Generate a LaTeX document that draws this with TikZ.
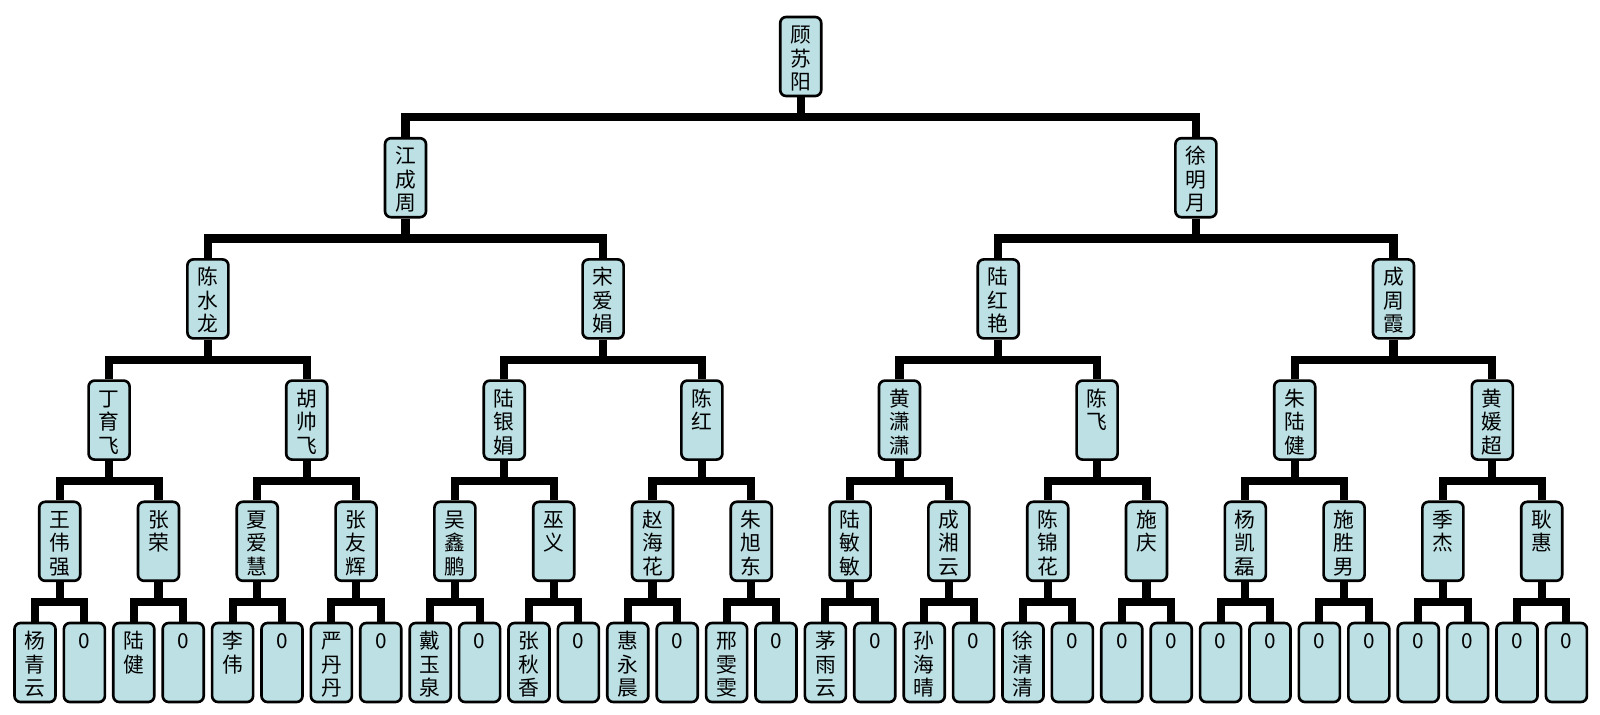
\documentclass[tikz,border=0pt]{standalone}
\usepackage{fontspec}
\setmainfont{Noto Sans CJK SC}
\usepackage{tikz}
\definecolor{boxfill}{HTML}{BCE0E4}
\tikzstyle{person} = [rectangle, rounded corners=0.12cm, minimum width=0.82cm, minimum height=1.58cm, inner sep=0pt, draw=black, line width=1.5pt, fill=boxfill, font=\fontsize{11.8pt}{13.4pt}\selectfont]
\tikzstyle{link} = [line width=4.6pt, draw=black]
\newcommand{\vname}[1]{\parbox[c][1.58cm][t]{0.82cm}{\centering\rule{0pt}{0.51cm}#1}}

\begin{document}
\begin{tikzpicture}[x=0.2mm, y=-0.2mm]

\useasboundingbox (0,0) rectangle (1600,714);

% root and second generation
\node (r) [person] at (800.7,56.5) {\vname{顾\\苏\\阳}};

\node (a1) [person] at (405.5,177.7) {\vname{江\\成\\周}};
\node (a2) [person] at (1195.9,177.7) {\vname{徐\\明\\月}};

% third generation
\node (b1) [person] at (207.9,298.9) {\vname{陈\\水\\龙}};
\node (b2) [person] at (603.1,298.9) {\vname{宋\\爱\\娟}};
\node (b3) [person] at (998.3,298.9) {\vname{陆\\红\\艳}};
\node (b4) [person] at (1393.5,298.9) {\vname{成\\周\\霞}};

% fourth generation
\node (c1) [person] at (109.1,420.1) {\vname{丁\\育\\飞}};
\node (c2) [person] at (306.7,420.1) {\vname{胡\\帅\\飞}};
\node (c3) [person] at (504.3,420.1) {\vname{陆\\银\\娟}};
\node (c4) [person] at (701.9,420.1) {\vname{陈\\红}};
\node (c5) [person] at (899.5,420.1) {\vname{黄\\潇\\潇}};
\node (c6) [person] at (1097.1,420.1) {\vname{陈\\飞}};
\node (c7) [person] at (1294.7,420.1) {\vname{朱\\陆\\健}};
\node (c8) [person] at (1492.3,420.1) {\vname{黄\\媛\\超}};

% fifth generation
\node (d1) [person] at (59.7,541.3) {\vname{王\\伟\\强}};
\node (d2) [person] at (158.5,541.3) {\vname{张\\荣}};
\node (d3) [person] at (257.3,541.3) {\vname{夏\\爱\\慧}};
\node (d4) [person] at (356.1,541.3) {\vname{张\\友\\辉}};
\node (d5) [person] at (454.9,541.3) {\vname{吴\\鑫\\鹏}};
\node (d6) [person] at (553.7,541.3) {\vname{巫\\义}};
\node (d7) [person] at (652.5,541.3) {\vname{赵\\海\\花}};
\node (d8) [person] at (751.3,541.3) {\vname{朱\\旭\\东}};
\node (d9) [person] at (850.1,541.3) {\vname{陆\\敏\\敏}};
\node (d10) [person] at (948.9,541.3) {\vname{成\\湘\\云}};
\node (d11) [person] at (1047.7,541.3) {\vname{陈\\锦\\花}};
\node (d12) [person] at (1146.5,541.3) {\vname{施\\庆}};
\node (d13) [person] at (1245.3,541.3) {\vname{杨\\凯\\磊}};
\node (d14) [person] at (1344.1,541.3) {\vname{施\\胜\\男}};
\node (d15) [person] at (1442.9,541.3) {\vname{季\\杰}};
\node (d16) [person] at (1541.7,541.3) {\vname{耿\\惠}};

% sixth generation
\node (e1) [person] at (35,662.5) {\vname{杨\\青\\云}};
\node (e2) [person] at (84.4,662.5) {\vname{0}};
\node (e3) [person] at (133.8,662.5) {\vname{陆\\健}};
\node (e4) [person] at (183.2,662.5) {\vname{0}};
\node (e5) [person] at (232.6,662.5) {\vname{李\\伟}};
\node (e6) [person] at (282,662.5) {\vname{0}};
\node (e7) [person] at (331.4,662.5) {\vname{严\\丹\\丹}};
\node (e8) [person] at (380.8,662.5) {\vname{0}};
\node (e9) [person] at (430.2,662.5) {\vname{戴\\玉\\泉}};
\node (e10) [person] at (479.6,662.5) {\vname{0}};
\node (e11) [person] at (529,662.5) {\vname{张\\秋\\香}};
\node (e12) [person] at (578.4,662.5) {\vname{0}};
\node (e13) [person] at (627.8,662.5) {\vname{惠\\永\\晨}};
\node (e14) [person] at (677.2,662.5) {\vname{0}};
\node (e15) [person] at (726.6,662.5) {\vname{邢\\雯\\雯}};
\node (e16) [person] at (776,662.5) {\vname{0}};
\node (e17) [person] at (825.4,662.5) {\vname{茅\\雨\\云}};
\node (e18) [person] at (874.8,662.5) {\vname{0}};
\node (e19) [person] at (924.2,662.5) {\vname{孙\\海\\晴}};
\node (e20) [person] at (973.6,662.5) {\vname{0}};
\node (e21) [person] at (1023,662.5) {\vname{徐\\清\\清}};
\node (e22) [person] at (1072.4,662.5) {\vname{0}};
\node (e23) [person] at (1121.8,662.5) {\vname{0}};
\node (e24) [person] at (1171.2,662.5) {\vname{0}};
\node (e25) [person] at (1220.6,662.5) {\vname{0}};
\node (e26) [person] at (1270,662.5) {\vname{0}};
\node (e27) [person] at (1319.4,662.5) {\vname{0}};
\node (e28) [person] at (1368.8,662.5) {\vname{0}};
\node (e29) [person] at (1418.2,662.5) {\vname{0}};
\node (e30) [person] at (1467.6,662.5) {\vname{0}};
\node (e31) [person] at (1517,662.5) {\vname{0}};
\node (e32) [person] at (1566.4,662.5) {\vname{0}};

% links
\draw [link] (r.south) -- ++(0,20) -| (a1.north) (r.south) -- ++(0,20) -| (a2.north);

\draw [link] (a1.south) -- ++(0,20) -| (b1.north) (a1.south) -- ++(0,20) -| (b2.north);
\draw [link] (a2.south) -- ++(0,20) -| (b3.north) (a2.south) -- ++(0,20) -| (b4.north);

\draw [link] (b1.south) -- ++(0,20) -| (c1.north) (b1.south) -- ++(0,20) -| (c2.north);
\draw [link] (b2.south) -- ++(0,20) -| (c3.north) (b2.south) -- ++(0,20) -| (c4.north);
\draw [link] (b3.south) -- ++(0,20) -| (c5.north) (b3.south) -- ++(0,20) -| (c6.north);
\draw [link] (b4.south) -- ++(0,20) -| (c7.north) (b4.south) -- ++(0,20) -| (c8.north);

\draw [link] (c1.south) -- ++(0,20) -| (d1.north) (c1.south) -- ++(0,20) -| (d2.north);
\draw [link] (c2.south) -- ++(0,20) -| (d3.north) (c2.south) -- ++(0,20) -| (d4.north);
\draw [link] (c3.south) -- ++(0,20) -| (d5.north) (c3.south) -- ++(0,20) -| (d6.north);
\draw [link] (c4.south) -- ++(0,20) -| (d7.north) (c4.south) -- ++(0,20) -| (d8.north);
\draw [link] (c5.south) -- ++(0,20) -| (d9.north) (c5.south) -- ++(0,20) -| (d10.north);
\draw [link] (c6.south) -- ++(0,20) -| (d11.north) (c6.south) -- ++(0,20) -| (d12.north);
\draw [link] (c7.south) -- ++(0,20) -| (d13.north) (c7.south) -- ++(0,20) -| (d14.north);
\draw [link] (c8.south) -- ++(0,20) -| (d15.north) (c8.south) -- ++(0,20) -| (d16.north);

\draw [link] (d1.south) -- ++(0,20) -| (e1.north) (d1.south) -- ++(0,20) -| (e2.north);
\draw [link] (d2.south) -- ++(0,20) -| (e3.north) (d2.south) -- ++(0,20) -| (e4.north);
\draw [link] (d3.south) -- ++(0,20) -| (e5.north) (d3.south) -- ++(0,20) -| (e6.north);
\draw [link] (d4.south) -- ++(0,20) -| (e7.north) (d4.south) -- ++(0,20) -| (e8.north);
\draw [link] (d5.south) -- ++(0,20) -| (e9.north) (d5.south) -- ++(0,20) -| (e10.north);
\draw [link] (d6.south) -- ++(0,20) -| (e11.north) (d6.south) -- ++(0,20) -| (e12.north);
\draw [link] (d7.south) -- ++(0,20) -| (e13.north) (d7.south) -- ++(0,20) -| (e14.north);
\draw [link] (d8.south) -- ++(0,20) -| (e15.north) (d8.south) -- ++(0,20) -| (e16.north);
\draw [link] (d9.south) -- ++(0,20) -| (e17.north) (d9.south) -- ++(0,20) -| (e18.north);
\draw [link] (d10.south) -- ++(0,20) -| (e19.north) (d10.south) -- ++(0,20) -| (e20.north);
\draw [link] (d11.south) -- ++(0,20) -| (e21.north) (d11.south) -- ++(0,20) -| (e22.north);
\draw [link] (d12.south) -- ++(0,20) -| (e23.north) (d12.south) -- ++(0,20) -| (e24.north);
\draw [link] (d13.south) -- ++(0,20) -| (e25.north) (d13.south) -- ++(0,20) -| (e26.north);
\draw [link] (d14.south) -- ++(0,20) -| (e27.north) (d14.south) -- ++(0,20) -| (e28.north);
\draw [link] (d15.south) -- ++(0,20) -| (e29.north) (d15.south) -- ++(0,20) -| (e30.north);
\draw [link] (d16.south) -- ++(0,20) -| (e31.north) (d16.south) -- ++(0,20) -| (e32.north);

\end{tikzpicture}
\end{document}
